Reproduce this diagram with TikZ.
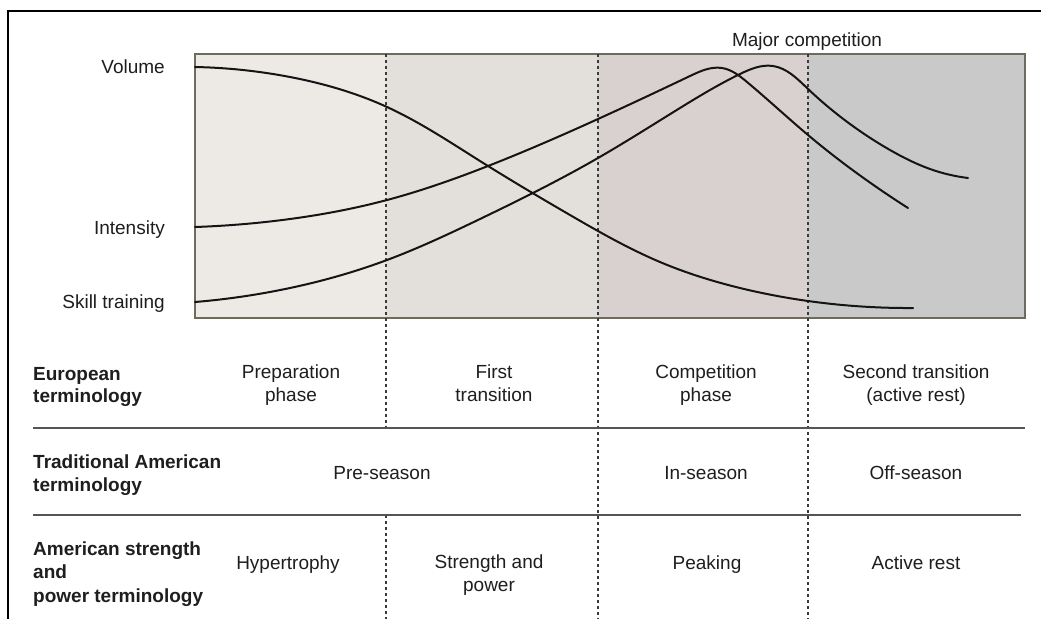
\documentclass[tikz,border=0pt]{standalone}
\usepackage{fontspec}
\setmainfont{Liberation Sans}
\usetikzlibrary{hobby}
\definecolor{pa}{HTML}{EDE9E5}
\definecolor{pb}{HTML}{E3DFDA}
\definecolor{pc}{HTML}{D9D1CF}
\definecolor{pd}{HTML}{C9C9C9}
\definecolor{bordc}{HTML}{6E6A5E}
\definecolor{dashc}{HTML}{3A3A3A}
\definecolor{rulec}{HTML}{555555}
\definecolor{txt}{HTML}{1E1E1E}
\begin{document}
\begin{tikzpicture}[x=1pt,y=-1pt,
  lbl/.style={font=\fontsize{19}{22.5}\selectfont, text=txt, inner sep=0pt, align=center,
    execute at begin node=\strut, execute at end node=\strut},
  hdr/.style={font=\fontsize{19}{22.5}\selectfont\bfseries, text=txt, inner sep=0pt, align=left, anchor=west,
    execute at begin node=\strut, execute at end node=\strut},
  curve/.style={line width=2pt, color=black!92, line cap=round, line join=round, use Hobby shortcut},
  divider/.style={line width=1.5pt, dash pattern=on 3pt off 3pt, color=dashc},
  rulestyle/.style={line width=1.5pt, color=rulec},
  chartborder/.style={line width=1.5pt, color=bordc}]
\useasboundingbox (0,0) rectangle (1041,619);
\fill[white] (0,0) rectangle (1041,619);
% outer frame (top and left)
\draw[line width=2pt] (8,619) |- (1041,11);
% panels
\fill[pa] (195,54) rectangle (386,318);
\fill[pb] (386,54) rectangle (598,318);
\fill[pc] (598,54) rectangle (808,318);
\fill[pd] (808,54) rectangle (1025,318);
\draw[chartborder] (195,54) rectangle (1025,318);
% dividers
\coordinate (d1t) at (386,54); \coordinate (d1m) at (386,428);
\coordinate (d1n) at (386,515); \coordinate (d1b) at (386,619);
\coordinate (d2t) at (598,54); \coordinate (d2b) at (598,619);
\coordinate (d3t) at (808,54); \coordinate (d3b) at (808,619);
\draw[divider] (d1t) -- (d1m);
\draw[divider] (d1n) -- (d1b);
\draw[divider] (d2t) -- (d2b);
\draw[divider] (d3t) -- (d3b);
% table rules
\coordinate (r1a) at (33,428); \coordinate (r1b) at (1025,428);
\coordinate (r2a) at (33,515); \coordinate (r2b) at (1021,515);
\draw[rulestyle] (r1a) -- (r1b);
\draw[rulestyle] (r2a) -- (r2b);
% curves
\draw[curve] (195,67) .. (290,77) .. (387,107) .. (480,161) .. (570,215) .. (660,262) .. (740,288) .. (808,301) .. (913,308);
\draw[curve] (195,227) .. (290,219) .. (387,200) .. (488,166) .. (598,119) .. (690,76) .. (722,68) .. (747,82) .. (777,108) .. (808,135) .. (858,174) .. (908,208);
\draw[curve] (195,302) .. (290,288) .. (387,260) .. (480,219) .. (598,158) .. (680,108) .. (740,74) .. (773,66) .. (807,88) .. (850,124) .. (890,150) .. (930,169) .. (968,178);
% chart labels
\node[lbl, anchor=east] (vol) at (165,69.3) {Volume};
\node[lbl, anchor=east] (inten) at (165,230.4) {Intensity};
\node[lbl, anchor=east] (skill) at (165,304.4) {Skill training};
\node[lbl] (major) at (807,42.4) {Major competition};
% row headers
\node[hdr] (eu) at (33,388.5) {European\\terminology};
\node[hdr] (ta) at (33,476.5) {Traditional American\\terminology};
\node[hdr, font=\fontsize{19}{23.5}\selectfont\bfseries] (asp) at (33,575.6) {American strength\\and\\power terminology};
% row 1
\node[lbl] (prep) at (291,386.5) {Preparation\\phase};
\node[lbl] (firsttr) at (494,386.5) {First\\transition};
\node[lbl] (comp) at (706,386.5) {Competition\\phase};
\node[lbl] (secondtr) at (916,386.5) {Second transition\\(active rest)};
% row 2
\node[lbl] (pre) at (382,474.8) {Pre-season};
\node[lbl] (ins) at (706,474.8) {In-season};
\node[lbl] (off) at (916,474.8) {Off-season};
% row 3
\node[lbl] (hyp) at (288,565.3) {Hypertrophy};
\node[lbl] (strp) at (489,576.5) {Strength and\\power};
\node[lbl] (peak) at (707,565.3) {Peaking};
\node[lbl] (actr) at (916,565.3) {Active rest};
\end{tikzpicture}
\end{document}
